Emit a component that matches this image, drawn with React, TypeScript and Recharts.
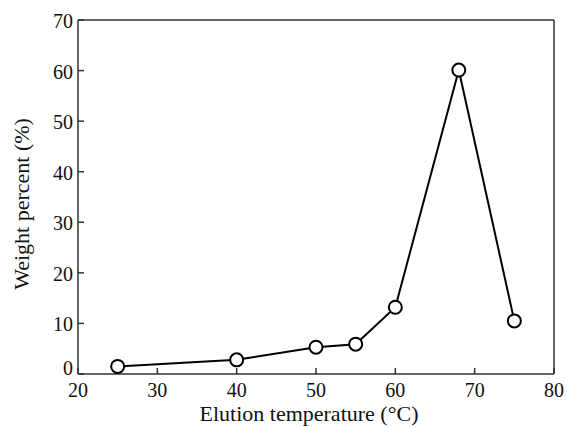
import { LineChart, Line, XAxis, YAxis, ReferenceLine } from 'recharts';

// elution temperature (°C) and weight percent
const temperaturas = [25, 40, 50, 55, 60, 68, 75];
const pesos = [1.5, 2.8, 5.3, 5.9, 13.2, 60.1, 10.5];
const ticksX = [20, 30, 40, 50, 60, 70, 80];
const ticksY = [0, 10, 20, 30, 40, 50, 60, 70];

const dados = temperaturas.map((t, i) => ({ temp: t, peso: pesos[i] }));

const FONTE = "'Liberation Serif', 'Times New Roman', serif";
const estiloTick = { fontFamily: FONTE, fontSize: 20 };
const estiloTitulo = { fontFamily: FONTE, fontSize: 22 };
const COR_EIXO = '#333';

const TickX = (props: any) => {
    const { x, y, payload } = props;
    return (
        <g>
            <line x1={x} y1={y} x2={x} y2={y - 6} stroke={COR_EIXO} strokeWidth={1.5} />
            <text x={x} y={y + 23} textAnchor="middle" style={estiloTick} fill="#111">
                {payload.value}
            </text>
        </g>
    );
};

const TickY = (props: any) => {
    const { x, y, payload } = props;
    // the 0 label sits a bit higher, clear of the x labels
    const dy = payload.value === 0 ? 1 : 8;
    return (
        <g>
            <line x1={x} y1={y} x2={x + 6} y2={y} stroke={COR_EIXO} strokeWidth={1.5} />
            <text x={x - 5} y={y + dy} textAnchor="end" style={estiloTick} fill="#111">
                {payload.value}
            </text>
        </g>
    );
};

const TituloY = (props: any) => {
    const { viewBox } = props;
    const cy = viewBox.y + viewBox.height / 2 + 7;
    const cx = 29;
    return (
        <text x={cx} y={cy} transform={`rotate(-90, ${cx}, ${cy})`} textAnchor="middle"
            style={estiloTitulo} fill="#111">
            Weight percent (%)
        </text>
    );
};

const TituloX = (props: any) => {
    const { viewBox } = props;
    const cx = viewBox.x + viewBox.width / 2 - 7;
    return (
        <text x={cx} y={421} textAnchor="middle" style={estiloTitulo} fill="#111">
            Elution temperature (°C)
        </text>
    );
};

export default function App() {
    return (
        <div style={{ position: 'fixed', left: 0, top: 0, background: '#fff' }}>
            <LineChart width={567} height={428} data={dados}
                margin={{ top: 20, right: 13, bottom: 0, left: 0 }}>
                <XAxis dataKey="temp" type="number" domain={[20, 80]} ticks={ticksX}
                    height={54} tickSize={0} tickMargin={0} tickLine={false}
                    axisLine={{ stroke: COR_EIXO, strokeWidth: 1.5 }}
                    tick={<TickX />} label={<TituloX />} />
                <YAxis type="number" domain={[0, 70]} ticks={ticksY}
                    width={78} tickSize={0} tickMargin={0} tickLine={false}
                    axisLine={{ stroke: COR_EIXO, strokeWidth: 1.5 }}
                    tick={<TickY />} label={<TituloY />} />
                <ReferenceLine y={70} stroke={COR_EIXO} strokeWidth={1.5} />
                <ReferenceLine x={80} stroke={COR_EIXO} strokeWidth={1.5} />
                <Line dataKey="peso" stroke="#000" strokeWidth={2} isAnimationActive={false}
                    dot={{ r: 6.5, stroke: '#000', strokeWidth: 2, fill: '#fff' }} />
            </LineChart>
        </div>
    );
}
